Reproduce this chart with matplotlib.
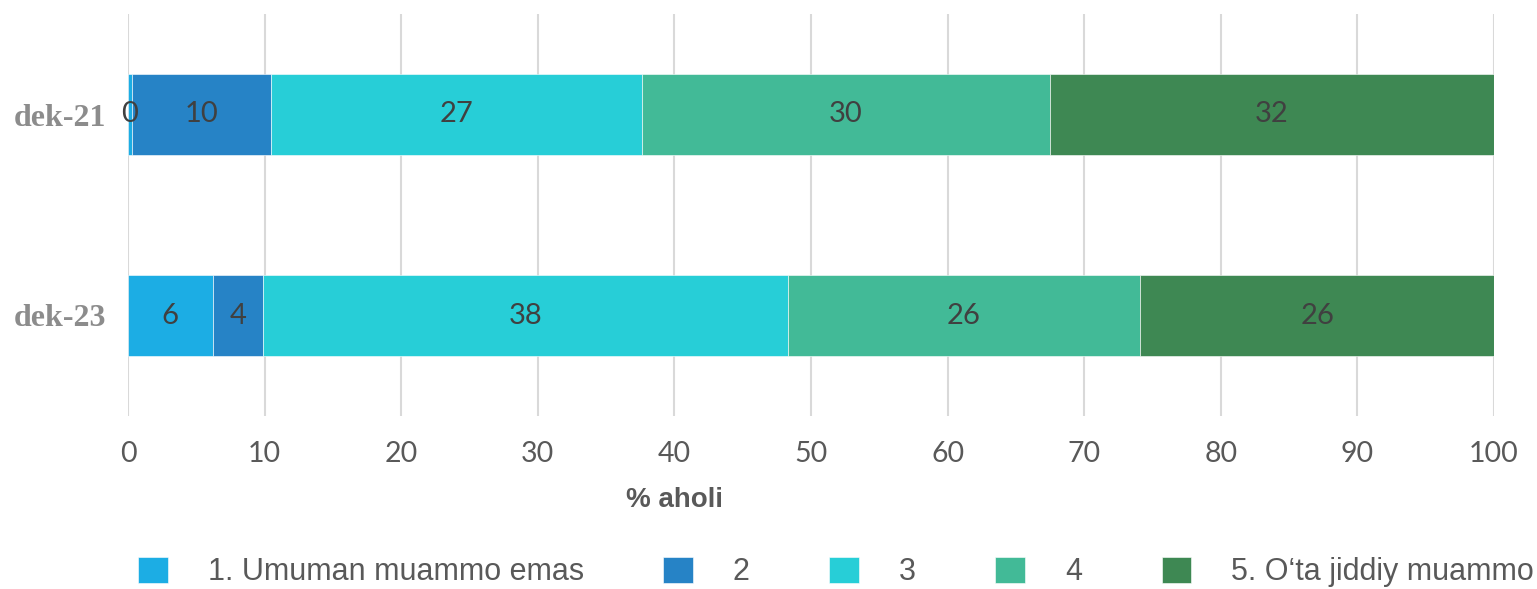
import matplotlib
matplotlib.use("Agg")
import matplotlib.pyplot as plt
import numpy as np

categories = ["dek-23", "dek-21"]
series_names = ["1. Umuman muammo emas", "2", "3", "4", "5. O\u2018ta jiddiy muammo"]
s1 = [6.2, 0.3]
s2 = [3.7, 10.2]
s3 = [38.4, 27.1]
s4 = [25.8, 29.9]
s5 = [25.9, 32.5]
series = [s1, s2, s3, s4, s5]
colors = ["#1CADE4", "#2683C6", "#27CED7", "#42BA97", "#3E8853"]
xticks = [0, 10, 20, 30, 40, 50, 60, 70, 80, 90, 100]
xlabel = "% aholi"

W, H = 1537, 589
fig = plt.figure(figsize=(W / 100, H / 100), dpi=100)
ax = fig.add_axes([128 / W, 1 - 416 / H, (1494 - 128) / W, (416 - 14) / H])

y = np.arange(len(categories))
left = np.zeros(len(categories))
handles = []
for vals, name, c in zip(series, series_names, colors):
    b = ax.barh(y, vals, left=left, height=0.4, color=c, label=name,
                edgecolor="white", linewidth=0.4, zorder=3)
    handles.append(b)
    left = left + np.array(vals)

for b, vals in zip(handles, series):
    txts = ax.bar_label(b, labels=[f"{v:.0f}" for v in vals], label_type="center",
                        fontsize=21, color="#404040", family="Lato")
    for t in txts:
        t.set_zorder(10)

ax.set_xlim(0, 100)
ax.set_ylim(-0.5, 1.5)
ax.set_xticks(xticks)
ax.set_xticklabels([str(t) for t in xticks], family="Lato", fontsize=20.5, color="#595959")
ax.set_yticks(y)
ax.set_yticklabels(categories, family="Liberation Serif", fontweight="bold",
                   fontsize=23, color="#8c8c8c")
ax.tick_params(axis="x", length=0, pad=18)
ax.tick_params(axis="y", length=0, pad=16)
for s in ax.spines.values():
    s.set_visible(False)
ax.grid(axis="x", color="#d9d9d9", linewidth=1.5, zorder=0)
ax.set_axisbelow(True)

ax.set_xlabel(xlabel, family="Liberation Sans", fontweight="bold", fontsize=20,
              color="#595959")
ax.xaxis.set_label_coords((675 - 128) / (1494 - 128), -(500 - 416) / (416 - 14))
ax.xaxis.label.set_va("center")

leg = fig.legend(handles=handles, labels=series_names, loc="center",
                 bbox_to_anchor=(836 / W, 1 - 572 / H), ncol=5, frameon=False,
                 prop={"family": "Liberation Sans", "size": 22},
                 handlelength=0.98, handleheight=0.98, handletextpad=1.3,
                 columnspacing=2.6)
for t in leg.get_texts():
    t.set_color("#595959")

fig.savefig("out.png", dpi=100)
